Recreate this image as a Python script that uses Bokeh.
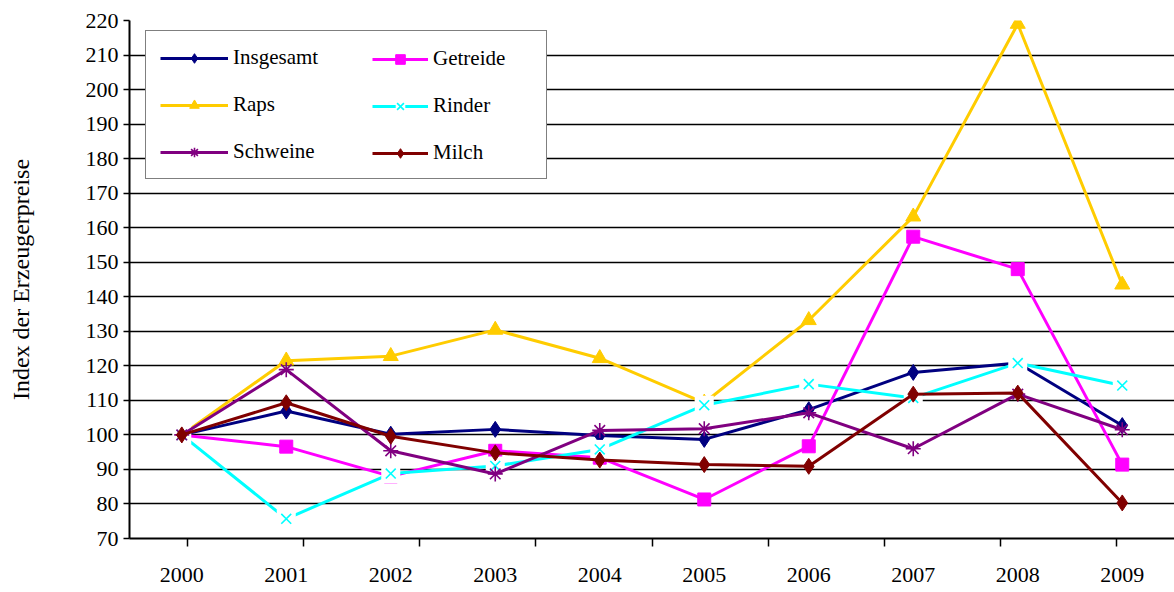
from bokeh.plotting import figure
from bokeh.models import (FactorRange, Range1d, CategoricalAxis, FixedTicker,
                          Legend, LegendItem)
from bokeh.embed import file_html
from bokeh.resources import INLINE

# Erzeugerpreisindizes (2000 = 100)
years = ["2000", "2001", "2002", "2003", "2004", "2005", "2006", "2007", "2008", "2009"]
insgesamt = [100, 106.9, 100.2, 101.6, 99.8, 98.7, 107.3, 118.1, 120.8, 102.7]
getreide = [100, 96.6, 88.0, 95.4, 93.4, 81.3, 96.7, 157.4, 148.0, 91.4]
raps = [100, 121.5, 122.8, 130.4, 122.2, 109.3, 133.2, 163.2, 219.0, 143.5]
rinder = [100, 75.7, 88.8, 91.0, 95.8, 108.6, 114.7, 110.7, 120.8, 114.3]
schweine = [100, 118.9, 95.4, 88.7, 101.3, 101.8, 106.4, 96.0, 111.8, 101.5]
milch = [100, 109.3, 99.6, 94.8, 92.7, 91.4, 90.9, 111.8, 112.1, 80.3]

y_ticks = [70, 80, 90, 100, 110, 120, 130, 140, 150, 160, 170, 180, 190, 200, 210, 220]

FONT = "Liberation Serif"

p = figure(width=1174, height=592,
           x_range=FactorRange(*years, range_padding=0),
           y_range=Range1d(70, 220),
           x_axis_location=None,
           output_backend="svg", toolbar_location=None,
           min_border_left=129, min_border_right=0,
           min_border_top=20, min_border_bottom=54)
p.outline_line_color = None
p.background_fill_color = "white"

# Tick marks between the year categories: one factor per category boundary,
# trimmed by half a factor on both ends so the centres fall on the boundaries.
n = len(years)
p.extra_x_ranges = {"edges": FactorRange(*[f"e{k}" for k in range(n + 1)],
                                         range_padding=-1,
                                         range_padding_units="absolute")}
edge_axis = CategoricalAxis(x_range_name="edges")
edge_axis.axis_line_color = "black"
edge_axis.axis_line_width = 2
edge_axis.major_tick_line_color = "black"
edge_axis.major_tick_line_width = 1.5
edge_axis.major_tick_out = 8
edge_axis.major_tick_in = 0
edge_axis.major_label_standoff = 0
edge_axis.major_label_text_font_size = "0px"
edge_axis.major_label_text_color = None
p.add_layout(edge_axis, "below")

# Year labels centred under each category
xaxis = CategoricalAxis()
xaxis.axis_line_color = None
xaxis.major_tick_line_color = None
xaxis.major_tick_out = 0
xaxis.major_tick_in = 0
xaxis.major_label_standoff = 21
xaxis.major_label_text_font = FONT
xaxis.major_label_text_font_size = "22px"
xaxis.major_label_text_color = "black"
p.add_layout(xaxis, "below")

yaxis = p.yaxis[0]
yaxis.ticker = FixedTicker(ticks=y_ticks)
yaxis.axis_line_color = "black"
yaxis.axis_line_width = 2
yaxis.major_tick_line_color = "black"
yaxis.major_tick_line_width = 1.5
yaxis.major_tick_out = 6
yaxis.major_tick_in = 0
yaxis.minor_tick_line_color = None
yaxis.major_label_standoff = 5
yaxis.major_label_text_font = FONT
yaxis.major_label_text_font_size = "22px"
yaxis.major_label_text_color = "black"
yaxis.axis_label = "Index der Erzeugerpreise"
yaxis.axis_label_text_font = FONT
yaxis.axis_label_text_font_size = "24px"
yaxis.axis_label_text_font_style = "normal"
yaxis.axis_label_text_color = "black"
yaxis.axis_label_standoff = 49

p.xgrid.visible = False
p.ygrid.grid_line_color = "black"
p.ygrid.grid_line_width = 1.5

LW = 3

def line(vals, color):
    return p.line(years, vals, line_color=color, line_width=LW, line_join="round")

# Insgesamt
r_ins = [line(insgesamt, "#000080"),
         p.scatter(years, insgesamt, marker="diamond", size=16,
                   fill_color="#000080", line_color="#000080")]
# Getreide
r_get = [line(getreide, "#FF00FF"),
         p.scatter(years, getreide, marker="square", size=13,
                   fill_color="#FF00FF", line_color="#FF00FF")]
# Raps
r_rap = [line(raps, "#FFCC00"),
         p.scatter(years, raps, marker="triangle", size=15,
                   fill_color="#FFCC00", line_color="#FFCC00")]
# Rinder: cross markers on a white backing square
r_rin = [line(rinder, "#00FFFF"),
         p.scatter(years, rinder, marker="square", size=19,
                   fill_color="white", line_color=None),
         p.scatter(years, rinder, marker="x", size=14,
                   line_color="#00FFFF", line_width=1.6)]
# Schweine
r_sch = [line(schweine, "#800080"),
         p.scatter(years, schweine, marker="asterisk", size=15,
                   line_color="#800080", line_width=1.6)]
# Milch
r_mil = [line(milch, "#800000"),
         p.scatter(years, milch, marker="diamond", size=16,
                   fill_color="#800000", line_color="#800000")]

legend_style = dict(glyph_height=24, label_height=24,
                    label_standoff=5, spacing=22, padding=14, margin=0,
                    label_text_font=FONT, label_text_font_size="21px",
                    label_text_color="black")

# boxed left column, spanning the whole legend area
leg_left = Legend(items=[LegendItem(label="Insgesamt", renderers=r_ins),
                         LegendItem(label="Raps", renderers=r_rap),
                         LegendItem(label="Schweine", renderers=r_sch)],
                  location=(16, 359), glyph_width=68, label_width=299,
                  border_line_color="black", border_line_width=1.5,
                  background_fill_color="white", background_fill_alpha=1,
                  **legend_style)
# right column drawn inside the same box
leg_right = Legend(items=[LegendItem(label="Getreide", renderers=r_get),
                          LegendItem(label="Rinder", renderers=r_rin),
                          LegendItem(label="Milch", renderers=r_mil)],
                   location=(229, 359), glyph_width=56,
                   border_line_alpha=0, background_fill_alpha=0,
                   **legend_style)
p.add_layout(leg_left)
p.add_layout(leg_right)

open("out.html", "w").write(file_html(p, INLINE))
